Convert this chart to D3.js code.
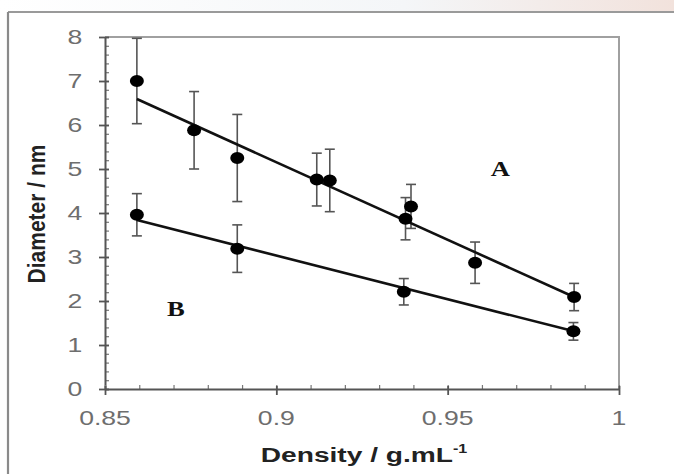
<!DOCTYPE html>
<html>
<head>
<meta charset="utf-8">
<script src="https://cdn.jsdelivr.net/npm/d3@7"></script>
<style>
  html, body { margin: 0; padding: 0; background: #fff; }
  svg { display: block; }
</style>
</head>
<body>
<svg id="chart" width="674" height="474"></svg>
<script>
// Series A: density (g/mL), mean diameter (nm) and error half-width
const densityA  = [0.8593, 0.8760, 0.8886, 0.9118, 0.9156, 0.9377, 0.9393, 0.9580, 0.9869];
const diameterA = [7.00,   5.88,   5.25,   4.76,   4.74,   3.87,   4.15,   2.87,   2.09];
const errorA    = [0.97,   0.88,   0.99,   0.60,   0.71,   0.48,   0.50,   0.47,   0.31];

// Series B
const densityB  = [0.8593, 0.8886, 0.9372, 0.9867];
const diameterB = [3.96,   3.19,   2.21,   1.31];
const errorB    = [0.48,   0.54,   0.30,   0.20];

// Linear trend lines, given by their end points [density, diameter]
const trendA = [[0.8593, 6.59], [0.9869, 2.09]];
const trendB = [[0.8593, 3.84], [0.9869, 1.31]];

// Axis ticks and labels
const xTicks = [0.85, 0.9, 0.95, 1];
const xTickLabels = ["0.85", "0.9", "0.95", "1"];
const xMinorTicks = d3.range(0, 16).map(i => +(0.85 + i * 0.01).toFixed(2));
const yTicks = [0, 1, 2, 3, 4, 5, 6, 7, 8];
const yMinorTicks = d3.range(0, 41).map(i => +(i * 0.2).toFixed(1));

const xTitle = "Density / g.mL";
const xTitleSup = "-1";
const yTitle = "Diameter / nm";
const seriesLabels = [{ text: "A", x: 0.9654, y: 4.84 }, { text: "B", x: 0.8707, y: 1.66 }];

const svg = d3.select("#chart");
const W = 674, H = 474;
const plot = { left: 105, right: 619, top: 37, bottom: 389 };
const stretch = 1.33; // horizontal widening of the lettering

const x = d3.scaleLinear().domain([0.85, 1]).range([plot.left, plot.right]);
const y = d3.scaleLinear().domain([0, 8]).range([plot.bottom, plot.top]);

// page background with a faint tinted strip along the top edge
const defs = svg.append("defs");
const grad = defs.append("linearGradient").attr("id", "topStrip")
  .attr("x1", "0%").attr("x2", "100%").attr("y1", "0%").attr("y2", "0%");
grad.append("stop").attr("offset", "0%").attr("stop-color", "#ffffff");
grad.append("stop").attr("offset", "60%").attr("stop-color", "#f4f6f8");
grad.append("stop").attr("offset", "100%").attr("stop-color", "#f2e2dc");
svg.append("rect").attr("width", W).attr("height", H).attr("fill", "#fff");
svg.append("rect").attr("width", W).attr("height", 11).attr("fill", "url(#topStrip)");

// outer frame (top and left edges)
svg.append("line").attr("x1", 8).attr("x2", W).attr("y1", 12).attr("y2", 12)
  .attr("stroke", "#9a9a9a").attr("stroke-width", 2.2);
svg.append("line").attr("x1", 8).attr("x2", 8).attr("y1", 12).attr("y2", H)
  .attr("stroke", "#8a8a8a").attr("stroke-width", 2.2);

// plot area border (top and right)
svg.append("path")
  .attr("d", `M${plot.left},${plot.top}H${plot.right}V${plot.bottom}`)
  .attr("fill", "none").attr("stroke", "#a0a0a0").attr("stroke-width", 2);

function stretchedText(g, tx, ty, str, opts) {
  return g.append("text")
    .attr("transform", `translate(${tx},${ty}) scale(${opts.sx || stretch},1)` + (opts.rotate ? ` rotate(${opts.rotate})` : ""))
    .attr("text-anchor", opts.anchor || "middle")
    .attr("font-family", opts.family || "'Liberation Sans', Arial, sans-serif")
    .attr("font-size", opts.size)
    .attr("font-weight", opts.weight || "normal")
    .attr("fill", opts.fill || "#000")
    .text(str);
}

// ---- Y axis ----
const yMinor = svg.append("g").attr("transform", `translate(${plot.left},0)`)
  .call(d3.axisRight(y).tickValues(yMinorTicks).tickSize(4).tickFormat(""));
yMinor.select(".domain").remove();
yMinor.selectAll(".tick line").attr("stroke", "#777").attr("stroke-width", 1.2);

const yAxis = svg.append("g").attr("transform", `translate(${plot.left},0)`)
  .call(d3.axisLeft(y).tickValues(yTicks).tickSize(6).tickSizeOuter(0).tickFormat(""));
yAxis.select(".domain").attr("stroke", "#555").attr("stroke-width", 2);
yAxis.selectAll(".tick line").attr("x1", 4).attr("stroke", "#555").attr("stroke-width", 1.8);

const yLab = svg.append("g");
yTicks.forEach(v => {
  stretchedText(yLab, 75, y(v) + 7, String(v), { size: 20, fill: "#6e6e6e" });
});

// ---- X axis ----
const xMinor = svg.append("g").attr("transform", `translate(0,${plot.bottom})`)
  .call(d3.axisTop(x).tickValues(xMinorTicks).tickSize(4).tickFormat(""));
xMinor.select(".domain").remove();
xMinor.selectAll(".tick line").attr("stroke", "#777").attr("stroke-width", 1.2);

const xAxis = svg.append("g").attr("transform", `translate(0,${plot.bottom})`)
  .call(d3.axisBottom(x).tickValues(xTicks).tickSize(6).tickSizeOuter(0).tickFormat(""));
xAxis.select(".domain").attr("stroke", "#555").attr("stroke-width", 2);
xAxis.selectAll(".tick line").attr("y1", -3).attr("stroke", "#555").attr("stroke-width", 1.8);

const xLab = svg.append("g");
xTicks.forEach((v, i) => {
  stretchedText(xLab, x(v), 425, xTickLabels[i], { size: 20, fill: "#6e6e6e" });
});

// ---- axis titles ----
const xt = stretchedText(svg, 364, 462, "", { size: 21, weight: "bold", fill: "#222", sx: 1.34 });
xt.append("tspan").text(xTitle);
xt.append("tspan").attr("dy", -9).attr("font-size", 12).text(xTitleSup);

stretchedText(svg, 45, 214, yTitle, { size: 21, weight: "bold", fill: "#222", sx: 1.15, rotate: -90 });

// ---- error bars ----
function errorBars(dx, dy, de) {
  const g = svg.append("g").attr("stroke", "#555").attr("stroke-width", 1.6).attr("fill", "none");
  dx.forEach((d, i) => {
    const cx = x(d), top = y(dy[i] + de[i]), bot = y(dy[i] - de[i]);
    g.append("line").attr("x1", cx).attr("x2", cx).attr("y1", top).attr("y2", bot);
    g.append("line").attr("x1", cx - 5).attr("x2", cx + 5).attr("y1", top).attr("y2", top);
    g.append("line").attr("x1", cx - 5).attr("x2", cx + 5).attr("y1", bot).attr("y2", bot);
  });
}
errorBars(densityA, diameterA, errorA);
errorBars(densityB, diameterB, errorB);

// ---- trend lines ----
const line = d3.line().x(d => x(d[0])).y(d => y(d[1]));
[trendA, trendB].forEach(t => {
  svg.append("path").attr("d", line(t)).attr("fill", "none")
    .attr("stroke", "#111").attr("stroke-width", 2.6);
});

// ---- markers ----
function markers(dx, dy) {
  svg.append("g").selectAll("ellipse").data(dx).join("ellipse")
    .attr("cx", d => x(d)).attr("cy", (d, i) => y(dy[i]))
    .attr("rx", 7).attr("ry", 6).attr("fill", "#000");
}
markers(densityA, diameterA);
markers(densityB, diameterB);

// ---- series labels ----
seriesLabels.forEach(s => {
  stretchedText(svg, x(s.x), y(s.y), s.text, {
    size: 20, weight: "bold", fill: "#111",
    family: "'Liberation Serif', 'Times New Roman', serif"
  });
});
</script>
</body>
</html>
